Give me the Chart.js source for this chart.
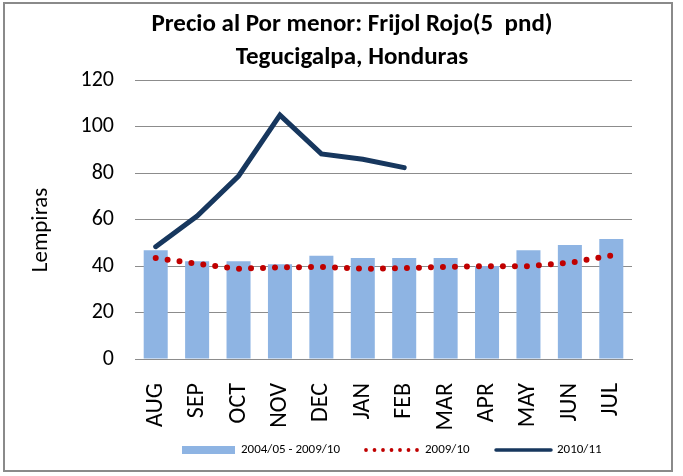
<!DOCTYPE html>
<html>
<head>
<meta charset="utf-8">
<script src="https://cdn.jsdelivr.net/npm/chart.js@4"></script>
<style>
  html, body { margin: 0; padding: 0; background: #fff; }
  #wrap { width: 683px; height: 476px; }
</style>
</head>
<body>
<div id="wrap"><canvas id="chart" width="683" height="476"></canvas></div>
<script>
const FONT = 'Carlito, "Liberation Sans Narrow", "Liberation Sans", sans-serif';

const months = ['AUG', 'SEP', 'OCT', 'NOV', 'DEC', 'JAN', 'FEB', 'MAR', 'APR', 'MAY', 'JUN', 'JUL'];
const avg0405to0910 = [46.8, 42.0, 42.0, 40.7, 44.4, 43.4, 43.4, 43.4, 40.0, 46.8, 49.0, 51.6];
const season0910 = [43.4, 41.0, 38.8, 39.4, 39.6, 38.8, 39.1, 39.6, 39.9, 39.9, 41.4, 44.5];
const season1011 = [48.3, 61.5, 78.7, 104.9, 88.2, 85.9, 82.3, null, null, null, null, null];
const yTicks = [0, 20, 40, 60, 80, 100, 120];

const titleLines = ['Precio al Por menor: Frijol Rojo(5  pnd)', 'Tegucigalpa, Honduras'];
const yTitle = 'Lempiras';

const gridColor = '#8c8c8c';

// white background + grey frame
const framePlugin = {
  id: 'frame',
  beforeDraw(chart) {
    const ctx = chart.ctx;
    ctx.save();
    ctx.fillStyle = '#fff';
    ctx.fillRect(0, 0, chart.width, chart.height);
    ctx.strokeStyle = '#8a8a8a';
    ctx.lineWidth = 2;
    ctx.strokeRect(4, 3, 668, 468);
    ctx.restore();
  }
};

// y axis title, placed like the original
const yTitlePlugin = {
  id: 'ytitle',
  afterDraw(chart) {
    const ctx = chart.ctx;
    ctx.save();
    ctx.translate(41, 230);
    ctx.rotate(-Math.PI / 2);
    ctx.font = '23px ' + FONT;
    ctx.fillStyle = '#000';
    ctx.textAlign = 'center';
    ctx.textBaseline = 'middle';
    ctx.fillText(yTitle, 0, 0);
    ctx.restore();
  }
};

// legend at the bottom
const legendPlugin = {
  id: 'bottomLegend',
  afterDraw(chart) {
    const ctx = chart.ctx;
    const ds = chart.data.datasets;
    const y = 450;
    ctx.save();
    ctx.font = '13px ' + FONT;
    ctx.textBaseline = 'middle';

    // bar swatch
    ctx.fillStyle = ds[0].backgroundColor;
    ctx.fillRect(182, y - 4, 53, 8);
    ctx.fillStyle = '#000';
    ctx.fillText(ds[0].label, 241, y);

    // dotted swatch
    ctx.fillStyle = ds[1].borderColor;
    for (let i = 0; i < 7; i++) {
      ctx.beginPath();
      ctx.arc(366 + i * 8.5, y, 1.9, 0, Math.PI * 2);
      ctx.fill();
    }
    ctx.fillStyle = '#000';
    ctx.fillText(ds[1].label, 425, y);

    // line swatch
    ctx.strokeStyle = ds[2].borderColor;
    ctx.lineWidth = 3.5;
    ctx.lineCap = 'round';
    ctx.beginPath();
    ctx.moveTo(496, y);
    ctx.lineTo(551, y);
    ctx.stroke();
    ctx.fillText(ds[2].label, 557, y);
    ctx.restore();
  }
};

new Chart(document.getElementById('chart'), {
  data: {
    labels: months,
    datasets: [
      {
        type: 'bar',
        label: '2004/05 - 2009/10',
        data: avg0405to0910,
        backgroundColor: '#8EB4E3',
        categoryPercentage: 1,
        barPercentage: 0.58,
        order: 3
      },
      {
        type: 'line',
        label: '2009/10',
        data: season0910,
        borderColor: '#C00000',
        borderWidth: 6,
        borderDash: [0, 12],
        borderCapStyle: 'round',
        pointRadius: 0,
        fill: false,
        tension: 0,
        order: 2
      },
      {
        type: 'line',
        label: '2010/11',
        data: season1011,
        borderColor: '#17375E',
        borderWidth: 5,
        borderJoinStyle: 'miter',
        borderCapStyle: 'round',
        pointRadius: 0,
        fill: false,
        tension: 0,
        order: 1
      }
    ]
  },
  options: {
    responsive: false,
    animation: false,
    layout: { padding: { left: 72, right: 51, top: 0, bottom: 0 } },
    plugins: {
      legend: { display: false },
      tooltip: { enabled: false },
      title: {
        display: true,
        text: titleLines,
        color: '#000',
        font: { family: FONT, size: 25, weight: 'bold', lineHeight: 1.32 },
        padding: { top: 8, bottom: 6 }
      }
    },
    scales: {
      x: {
        grid: { display: false, drawTicks: false },
        border: { display: true, color: gridColor, width: 1 },
        ticks: {
          color: '#000',
          font: { family: FONT, size: 24 },
          minRotation: 90,
          maxRotation: 90,
          padding: 24
        },
        afterFit(s) { s.height = 117; }
      },
      y: {
        min: 0,
        max: 120,
        afterBuildTicks(s) { s.ticks = yTicks.map(v => ({ value: v })); },
        grid: { color: gridColor, drawTicks: false },
        border: { display: false },
        ticks: {
          color: '#000',
          font: { family: FONT, size: 22 },
          padding: 21
        },
        afterFit(s) { s.width = 63; }
      }
    }
  },
  plugins: [framePlugin, yTitlePlugin, legendPlugin]
});
</script>
</body>
</html>
